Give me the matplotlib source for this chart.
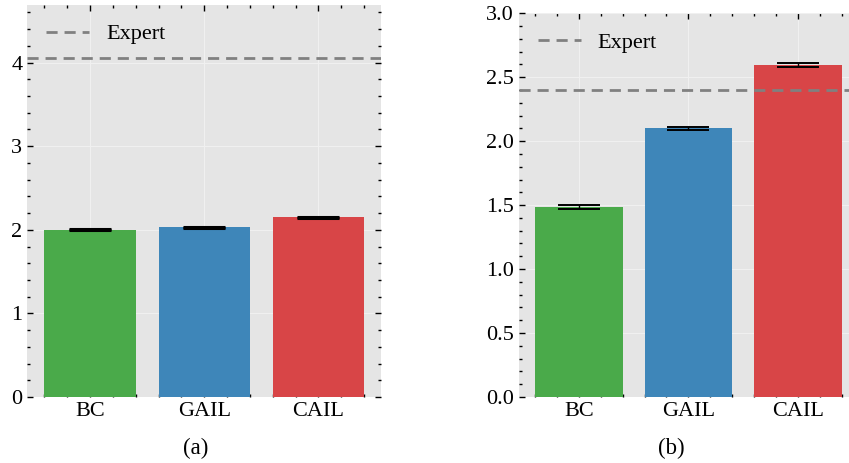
import matplotlib.pyplot as plt
from matplotlib.ticker import MultipleLocator

methods = ["BC", "GAIL", "CAIL"]
colors = ["#4aaa4a", "#3e86b9", "#d84547"]

# (a)
values_a = [2.00, 2.03, 2.15]
errors_a = [0.006, 0.006, 0.006]
expert_a = 4.05

# (b)
values_b = [1.485, 2.10, 2.595]
errors_b = [0.012, 0.012, 0.012]
expert_b = 2.40

plt.rcParams['font.family'] = ['Liberation Serif', 'DejaVu Serif']
plt.rcParams['font.size'] = 16


def draw(ax, values, errors, expert, ylim, major, minor, capthick):
    ax.set_facecolor('#e5e5e5')
    for s in ax.spines.values():
        s.set_visible(False)
    ax.grid(True, color='#f0f0f0', linewidth=0.8, zorder=0)
    ax.set_axisbelow(True)
    x = list(range(len(methods)))
    ax.bar(x, values, width=0.8, color=colors, zorder=2)
    ax.errorbar(x, values, yerr=errors, fmt='none', ecolor='black',
                elinewidth=1.0, capsize=15, capthick=capthick, zorder=3)
    ax.axhline(expert, color='gray', linestyle='--', linewidth=2,
               dashes=(4, 2.5), label='Expert', zorder=4)
    ax.set_xlim(-0.55, 2.55)
    ax.set_ylim(*ylim)
    ax.set_xticks(x)
    ax.set_xticklabels(methods)
    ax.xaxis.set_minor_locator(MultipleLocator(0.2))
    ax.yaxis.set_major_locator(MultipleLocator(major))
    ax.yaxis.set_minor_locator(MultipleLocator(minor))
    ax.tick_params(which='both', direction='in', top=True, right=True,
                   color='black', labelsize=16)
    ax.tick_params(which='major', length=4, width=1)
    ax.tick_params(which='minor', length=2, width=1)
    ax.legend(loc='upper left', frameon=False, fontsize=16,
              handlelength=1.95, handletextpad=0.75, borderaxespad=0.45)


fig = plt.figure(figsize=(8.49, 4.63), dpi=100)
ax1 = fig.add_axes([0.032, 0.1425, 0.417, 0.847])
ax2 = fig.add_axes([0.611, 0.1425, 0.3995, 0.829])

draw(ax1, values_a, errors_a, expert_a, (0, 4.69), 1, 0.2, 2.2)
draw(ax2, values_b, errors_b, expert_b, (0, 3.0), 0.5, 0.1, 1.4)
ax2.yaxis.set_major_formatter(plt.FormatStrFormatter('%.1f'))

fig.text(0.231, 0.032, "(a)", ha='center', va='center', fontsize=16.5)
fig.text(0.791, 0.032, "(b)", ha='center', va='center', fontsize=16.5)

fig.savefig("out.png", dpi=100)
